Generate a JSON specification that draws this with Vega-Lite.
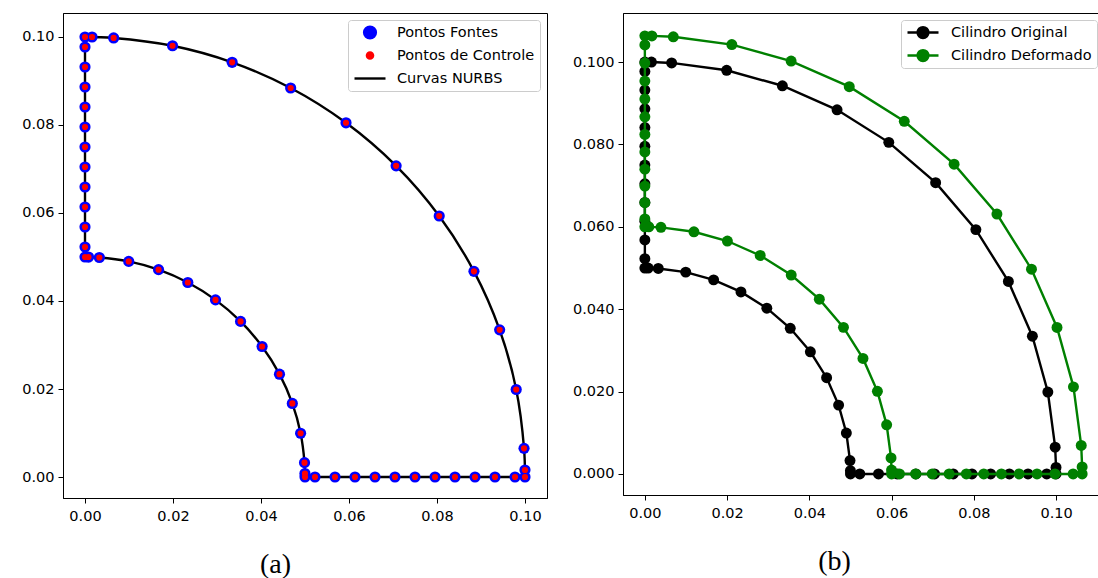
{
  "$schema": "https://vega.github.io/schema/vega-lite/v6.json",
  "background": "white",
  "padding": {"left": 21, "top": 12, "right": 0, "bottom": 0},
  "config": {
    "view": {"stroke": "#000000", "strokeWidth": 1},
    "axis": {"grid": false, "domainColor": "#000000", "tickColor": "#000000", "tickSize": 5, "labelFont": "DejaVu Sans", "labelFontSize": 14.5, "labelColor": "#000000", "titleFont": "Liberation Serif", "titleFontSize": 28, "titleFontWeight": "normal", "titleColor": "#000000"}
  },
  "datasets": {
    "pts": [
      {"k": 0, "x": 0, "y": 0.05}, {"k": 1, "x": 0, "y": 0.05227}, {"k": 2, "x": 0, "y": 0.05682}, {"k": 3, "x": 0, "y": 0.06136}, {"k": 4, "x": 0, "y": 0.06591}, {"k": 5, "x": 0, "y": 0.07045}, {"k": 6, "x": 0, "y": 0.075}, {"k": 7, "x": 0, "y": 0.07955}, {"k": 8, "x": 0, "y": 0.08409}, {"k": 9, "x": 0, "y": 0.08864}, {"k": 10, "x": 0, "y": 0.09318}, {"k": 11, "x": 0, "y": 0.09773}, {"k": 12, "x": 0, "y": 0.1},
      {"k": 13, "x": 0.0016, "y": 0.09999}, {"k": 14, "x": 0.00651, "y": 0.09978}, {"k": 15, "x": 0.01989, "y": 0.098}, {"k": 16, "x": 0.03344, "y": 0.09424}, {"k": 17, "x": 0.04674, "y": 0.0884}, {"k": 18, "x": 0.05932, "y": 0.0805}, {"k": 19, "x": 0.07071, "y": 0.07071}, {"k": 20, "x": 0.0805, "y": 0.05932}, {"k": 21, "x": 0.0884, "y": 0.04674}, {"k": 22, "x": 0.09424, "y": 0.03344}, {"k": 23, "x": 0.098, "y": 0.01989}, {"k": 24, "x": 0.09978, "y": 0.00651}, {"k": 25, "x": 0.09999, "y": 0.0016},
      {"k": 26, "x": 0.1, "y": 0}, {"k": 27, "x": 0.09773, "y": 0}, {"k": 28, "x": 0.09318, "y": 0}, {"k": 29, "x": 0.08864, "y": 0}, {"k": 30, "x": 0.08409, "y": 0}, {"k": 31, "x": 0.07955, "y": 0}, {"k": 32, "x": 0.075, "y": 0}, {"k": 33, "x": 0.07045, "y": 0}, {"k": 34, "x": 0.06591, "y": 0}, {"k": 35, "x": 0.06136, "y": 0}, {"k": 36, "x": 0.05682, "y": 0}, {"k": 37, "x": 0.05227, "y": 0}, {"k": 38, "x": 0.05, "y": 0},
      {"k": 39, "x": 0.04999, "y": 0.0008}, {"k": 40, "x": 0.04989, "y": 0.00326}, {"k": 41, "x": 0.049, "y": 0.00994}, {"k": 42, "x": 0.04712, "y": 0.01672}, {"k": 43, "x": 0.0442, "y": 0.02337}, {"k": 44, "x": 0.04025, "y": 0.02966}, {"k": 45, "x": 0.03536, "y": 0.03536}, {"k": 46, "x": 0.02966, "y": 0.04025}, {"k": 47, "x": 0.02337, "y": 0.0442}, {"k": 48, "x": 0.01672, "y": 0.04712}, {"k": 49, "x": 0.00994, "y": 0.049}, {"k": 50, "x": 0.00326, "y": 0.04989}, {"k": 51, "x": 0.0008, "y": 0.04999}
    ],
    "def": [
      {"k": 0, "x": 0, "y": 0.06}, {"k": 1, "x": 0, "y": 0.06192}, {"k": 2, "x": 0, "y": 0.06585}, {"k": 3, "x": 0, "y": 0.06988}, {"k": 4, "x": 0, "y": 0.074}, {"k": 5, "x": 0, "y": 0.07818}, {"k": 6, "x": 0, "y": 0.08242}, {"k": 7, "x": 0, "y": 0.0867}, {"k": 8, "x": 0, "y": 0.09102}, {"k": 9, "x": 0, "y": 0.09537}, {"k": 10, "x": 0, "y": 0.09974}, {"k": 11, "x": 0, "y": 0.10415}, {"k": 12, "x": 0, "y": 0.10635},
      {"k": 13, "x": 0.0017, "y": 0.10634}, {"k": 14, "x": 0.00692, "y": 0.10612}, {"k": 15, "x": 0.02115, "y": 0.10423}, {"k": 16, "x": 0.03557, "y": 0.10023}, {"k": 17, "x": 0.04971, "y": 0.09402}, {"k": 18, "x": 0.06309, "y": 0.08562}, {"k": 19, "x": 0.0752, "y": 0.0752}, {"k": 20, "x": 0.08562, "y": 0.06309}, {"k": 21, "x": 0.09402, "y": 0.04971}, {"k": 22, "x": 0.10023, "y": 0.03557}, {"k": 23, "x": 0.10423, "y": 0.02115}, {"k": 24, "x": 0.10612, "y": 0.00692}, {"k": 25, "x": 0.10634, "y": 0.0017},
      {"k": 26, "x": 0.10635, "y": 0}, {"k": 27, "x": 0.10415, "y": 0}, {"k": 28, "x": 0.09974, "y": 0}, {"k": 29, "x": 0.09537, "y": 0}, {"k": 30, "x": 0.09102, "y": 0}, {"k": 31, "x": 0.0867, "y": 0}, {"k": 32, "x": 0.08242, "y": 0}, {"k": 33, "x": 0.07818, "y": 0}, {"k": 34, "x": 0.074, "y": 0}, {"k": 35, "x": 0.06988, "y": 0}, {"k": 36, "x": 0.06585, "y": 0}, {"k": 37, "x": 0.06192, "y": 0}, {"k": 38, "x": 0.06, "y": 0},
      {"k": 39, "x": 0.05999, "y": 0.00096}, {"k": 40, "x": 0.05987, "y": 0.00391}, {"k": 41, "x": 0.0588, "y": 0.01193}, {"k": 42, "x": 0.05655, "y": 0.02007}, {"k": 43, "x": 0.05304, "y": 0.02805}, {"k": 44, "x": 0.0483, "y": 0.03559}, {"k": 45, "x": 0.04243, "y": 0.04243}, {"k": 46, "x": 0.03559, "y": 0.0483}, {"k": 47, "x": 0.02805, "y": 0.05304}, {"k": 48, "x": 0.02007, "y": 0.05655}, {"k": 49, "x": 0.01193, "y": 0.0588}, {"k": 50, "x": 0.00391, "y": 0.05987}, {"k": 51, "x": 0.00096, "y": 0.05999}
    ],
    "curve": [
      {"seg": "L", "i": 0, "x": 0, "y": 0.05}, {"seg": "L", "i": 1, "x": 0, "y": 0.1},
      {"seg": "O", "i": 0, "x": 0, "y": 0.1}, {"seg": "O", "i": 1, "x": 0.00651, "y": 0.09978}, {"seg": "O", "i": 2, "x": 0.01989, "y": 0.098}, {"seg": "O", "i": 3, "x": 0.03344, "y": 0.09424}, {"seg": "O", "i": 4, "x": 0.04674, "y": 0.0884}, {"seg": "O", "i": 5, "x": 0.05932, "y": 0.0805}, {"seg": "O", "i": 6, "x": 0.07071, "y": 0.07071}, {"seg": "O", "i": 7, "x": 0.0805, "y": 0.05932}, {"seg": "O", "i": 8, "x": 0.0884, "y": 0.04674}, {"seg": "O", "i": 9, "x": 0.09424, "y": 0.03344}, {"seg": "O", "i": 10, "x": 0.098, "y": 0.01989}, {"seg": "O", "i": 11, "x": 0.09978, "y": 0.00651}, {"seg": "O", "i": 12, "x": 0.1, "y": 0},
      {"seg": "B", "i": 0, "x": 0.1, "y": 0}, {"seg": "B", "i": 1, "x": 0.05, "y": 0},
      {"seg": "I", "i": 0, "x": 0.05, "y": 0}, {"seg": "I", "i": 1, "x": 0.04989, "y": 0.00326}, {"seg": "I", "i": 2, "x": 0.049, "y": 0.00994}, {"seg": "I", "i": 3, "x": 0.04712, "y": 0.01672}, {"seg": "I", "i": 4, "x": 0.0442, "y": 0.02337}, {"seg": "I", "i": 5, "x": 0.04025, "y": 0.02966}, {"seg": "I", "i": 6, "x": 0.03536, "y": 0.03536}, {"seg": "I", "i": 7, "x": 0.02966, "y": 0.04025}, {"seg": "I", "i": 8, "x": 0.02337, "y": 0.0442}, {"seg": "I", "i": 9, "x": 0.01672, "y": 0.04712}, {"seg": "I", "i": 10, "x": 0.00994, "y": 0.049}, {"seg": "I", "i": 11, "x": 0.00326, "y": 0.04989}, {"seg": "I", "i": 12, "x": 0, "y": 0.05}
    ]
  },
  "spacing": 76,
  "bounds": "flush",
  "resolve": {"scale": {"color": "independent"}, "legend": {"color": "independent"}},
  "hconcat": [
    {
      "width": 484,
      "height": 485,
      "encoding": {
        "x": {"field": "x", "type": "quantitative", "scale": {"domain": [-0.005, 0.105], "nice": false, "zero": false}, "axis": {"values": [0, 0.02, 0.04, 0.06, 0.08, 0.1], "format": ".2f", "title": "(a)", "titlePadding": 28, "titleX": 212, "labelPadding": 6}},
        "y": {"field": "y", "type": "quantitative", "scale": {"domain": [-0.00477, 0.10545], "nice": false, "zero": false}, "axis": {"values": [0, 0.02, 0.04, 0.06, 0.08, 0.1], "format": ".2f", "title": null, "labelPadding": 4}}
      },
      "layer": [
        {
          "data": {"name": "curve"},
          "mark": {"type": "line", "interpolate": "catmull-rom", "strokeWidth": 2.4},
          "encoding": {
            "detail": {"field": "seg"},
            "order": {"field": "i", "type": "quantitative"},
            "color": {
              "datum": "Curvas NURBS",
              "scale": {"domain": ["Pontos Fontes", "Pontos de Controle", "Curvas NURBS"], "range": ["#0000ff", "#ff0000", "#000000"]},
              "legend": {
                "title": null, "orient": "top-right", "offset": 7, "padding": 5, "symbolSize": 961, "clipHeight": 15, "labelOffset": 10, "rowPadding": 7,
                "strokeColor": "#cccccc", "fillColor": "#ffffff", "cornerRadius": 3,
                "labelFont": "DejaVu Sans", "labelFontSize": 14.5, "labelColor": "#000000",
                "encode": {"symbols": {"update": {
                  "shape": {"signal": "datum.value === 'Curvas NURBS' ? 'M-1,0L1,0' : (datum.value === 'Pontos Fontes' ? 'M0.38,0A0.38,0.38,0,1,1,-0.38,0A0.38,0.38,0,1,1,0.38,0Z' : 'M0.2,0A0.2,0.2,0,1,1,-0.2,0A0.2,0.2,0,1,1,0.2,0Z')"},
                  "fill": {"signal": "datum.value === 'Curvas NURBS' ? 'transparent' : (datum.value === 'Pontos Fontes' ? '#0000ff' : '#ff0000')"},
                  "stroke": {"signal": "datum.value === 'Curvas NURBS' ? '#000000' : 'transparent'"},
                  "strokeWidth": {"value": 2.4},
                  "size": {"value": 961},
                  "opacity": {"value": 1}
                }}}
              }
            }
          }
        },
        {
          "data": {"name": "pts"},
          "mark": {"type": "point", "filled": true, "size": 125, "opacity": 1},
          "encoding": {"color": {"datum": "Pontos Fontes"}}
        },
        {
          "data": {"name": "pts"},
          "mark": {"type": "point", "filled": true, "size": 38, "opacity": 1},
          "encoding": {"color": {"datum": "Pontos de Controle"}}
        }
      ]
    },
    {
      "width": 481,
      "height": 482,
      "encoding": {
        "x": {"field": "x", "type": "quantitative", "scale": {"domain": [-0.005317, 0.111657], "nice": false, "zero": false}, "axis": {"values": [0, 0.02, 0.04, 0.06, 0.08, 0.1], "format": ".2f", "title": "(b)", "titlePadding": 28, "titleX": 211, "labelPadding": 6}},
        "y": {"field": "y", "type": "quantitative", "scale": {"domain": [-0.0051, 0.1119], "nice": false, "zero": false}, "axis": {"values": [0, 0.02, 0.04, 0.06, 0.08, 0.1], "format": ".3f", "title": null, "labelPadding": 4}},
        "order": {"field": "k", "type": "quantitative"}
      },
      "layer": [
        {
          "data": {"name": "pts"},
          "mark": {"type": "line", "strokeWidth": 2.4, "point": {"filled": true, "size": 120, "opacity": 1}},
          "encoding": {
            "color": {
              "datum": "Cilindro Original",
              "scale": {"domain": ["Cilindro Original", "Cilindro Deformado"], "range": ["#000000", "#008000"]},
              "legend": {
                "title": null, "orient": "top-right", "offset": 7, "padding": 5, "symbolSize": 961, "clipHeight": 15, "labelOffset": 11, "rowPadding": 7,
                "symbolType": "M-1,0L1,0M0.35,0A0.35,0.35,0,1,1,-0.35,0A0.35,0.35,0,1,1,0.35,0Z",
                "strokeColor": "#cccccc", "fillColor": "#ffffff", "cornerRadius": 3,
                "labelFont": "DejaVu Sans", "labelFontSize": 14.5, "labelColor": "#000000",
                "encode": {"symbols": {"update": {
                  "shape": {"value": "M-1,0L1,0M0.35,0A0.35,0.35,0,1,1,-0.35,0A0.35,0.35,0,1,1,0.35,0Z"},
                  "fill": {"signal": "datum.value === 'Cilindro Original' ? '#000000' : '#008000'"},
                  "stroke": {"signal": "datum.value === 'Cilindro Original' ? '#000000' : '#008000'"},
                  "strokeWidth": {"value": 2.4},
                  "size": {"value": 961},
                  "opacity": {"value": 1}
                }}}
              }
            }
          }
        },
        {
          "data": {"name": "def"},
          "mark": {"type": "line", "strokeWidth": 2.4, "point": {"filled": true, "size": 120, "opacity": 1}},
          "encoding": {"color": {"datum": "Cilindro Deformado"}}
        }
      ]
    }
  ]
}
